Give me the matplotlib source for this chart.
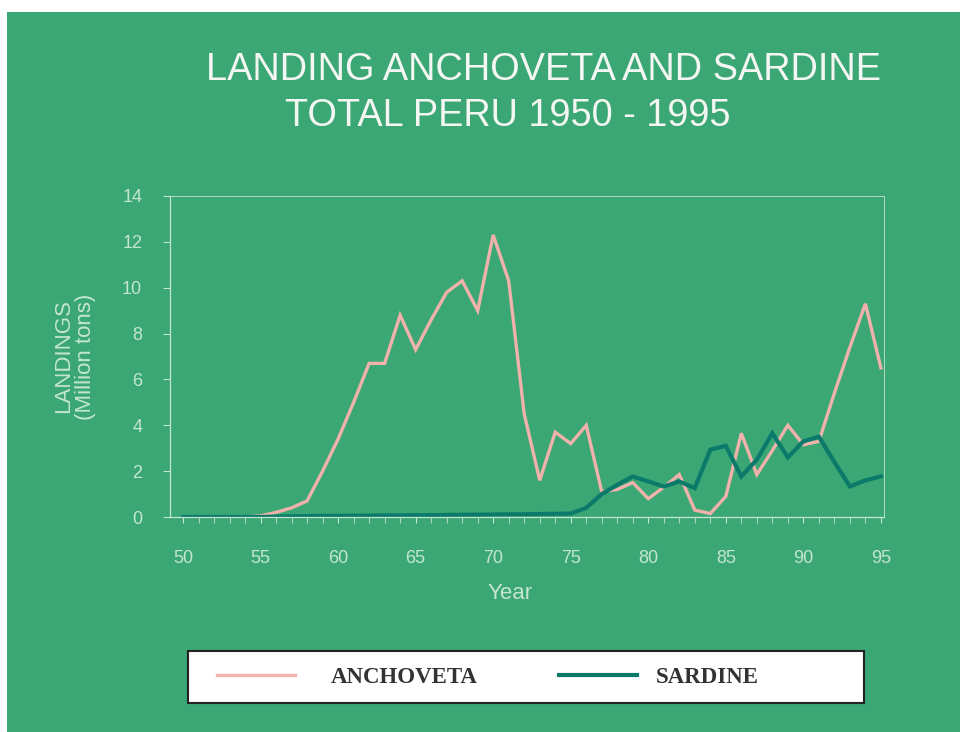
import matplotlib
matplotlib.use("Agg")
import matplotlib.pyplot as plt
from matplotlib.patches import Rectangle
from matplotlib.lines import Line2D
import numpy as np

years = list(range(50, 96))
anchoveta = [0.0, 0.0, 0.0, 0.0, 0.0, 0.05, 0.2, 0.4, 0.7, 2.0,
             3.4, 5.0, 6.7, 6.7, 8.8, 7.3, 8.6, 9.8, 10.3, 9.0,
             12.3, 10.3, 4.5, 1.6, 3.7, 3.2, 4.0, 1.1, 1.2, 1.5,
             0.8, 1.3, 1.85, 0.3, 0.15, 0.9, 3.65, 1.85, 2.9, 4.0,
             3.15, 3.3, 5.4, 7.4, 9.3, 6.5]
sardine = [0.0, 0.0, 0.0, 0.0, 0.0, 0.0, 0.02, 0.03, 0.04, 0.05,
           0.05, 0.06, 0.06, 0.07, 0.07, 0.08, 0.08, 0.09, 0.1, 0.1,
           0.11, 0.12, 0.12, 0.13, 0.14, 0.15, 0.4, 1.0, 1.4, 1.77,
           1.55, 1.33, 1.55, 1.26, 2.94, 3.1, 1.77, 2.5, 3.65, 2.6,
           3.3, 3.5, 2.4, 1.33, 1.6, 1.77]
xtick_labels = ["50", "55", "60", "65", "70", "75", "80", "85", "90", "95"]
series_names = ["ANCHOVETA", "SARDINE"]

BG = "#3aa775"
PALE = "#c4e6d0"
PINK = "#f0b2aa"
TEAL = "#0c7a6a"

fig = plt.figure(figsize=(9.6, 7.32), dpi=100, facecolor="white")
fig.patches.append(Rectangle((7 / 960, 0), 1, 720 / 732, transform=fig.transFigure,
                             facecolor=BG, edgecolor="none", zorder=-10))

ax = fig.add_axes([170 / 960, 215 / 732, 714 / 960, 321 / 732])
ax.set_facecolor("none")
ax.plot(years, anchoveta, color=PINK, lw=2.4, solid_joinstyle="miter")
ax.plot(years, sardine, color=TEAL, lw=3.0, solid_joinstyle="miter")

ax.set_xlim(49.16, 95.2)
ax.set_ylim(0, 14)
ax.set_yticks(range(0, 15, 2))
ax.set_xticks(range(50, 96, 5))
ax.set_xticklabels(xtick_labels)
ax.set_xticks(years, minor=True)

for s in ax.spines.values():
    s.set_color(PALE)
    s.set_linewidth(0.9)
ax.spines["top"].set_linewidth(0.6)
ax.spines["right"].set_linewidth(0.6)

ax.tick_params(axis="x", which="both", direction="out", length=4, color=PALE,
               labelcolor=PALE, labelsize=13, pad=20)
ax.tick_params(axis="y", direction="out", length=5, color=PALE,
               labelcolor=PALE, labelsize=13, pad=15)
for lab in ax.get_xticklabels() + ax.get_yticklabels():
    lab.set_family("Liberation Sans")

ax.set_xlabel("Year", color=PALE, fontsize=16, family="Liberation Sans")
ax.xaxis.set_label_coords(0.476, -0.205)
ax.set_ylabel("LANDINGS\n(Million tons)", color=PALE, fontsize=16,
              family="Liberation Sans", linespacing=1.05)
ax.yaxis.set_label_coords(-0.104, 0.5)

fig.text(543 / 960, 1 - 80 / 732, "LANDING ANCHOVETA AND SARDINE", ha="center",
         va="baseline", color="#f4f6f2", fontsize=27.3, family="Liberation Sans")
fig.text(508 / 960, 1 - 126 / 732, "TOTAL PERU 1950 - 1995", ha="center",
         va="baseline", color="#f4f6f2", fontsize=27.3, family="Liberation Sans")

# legend box
fig.patches.append(Rectangle((188 / 960, 29 / 732), 676 / 960, 52 / 732,
                             transform=fig.transFigure, facecolor="white",
                             edgecolor="#222222", lw=1.5, zorder=1))
leg_font = {"family": "Liberation Serif", "weight": "bold", "size": 16.5}
specs = [(PINK, 2.4, 210, 1.55), (TEAL, 3.0, 552, 0.85)]
for name, (col, lw, xpos, tpad) in zip(series_names, specs):
    leg = fig.legend([Line2D([], [], color=col, lw=lw)], [name], loc="center left",
                     bbox_to_anchor=(xpos / 960, 55 / 732), frameon=False,
                     handlelength=3.4, handletextpad=tpad, borderpad=0.3,
                     borderaxespad=0, prop=leg_font)
    for t in leg.get_texts():
        t.set_color("#333333")
    leg.set_zorder(2)

fig.savefig("out.png", dpi=100, facecolor="white")
